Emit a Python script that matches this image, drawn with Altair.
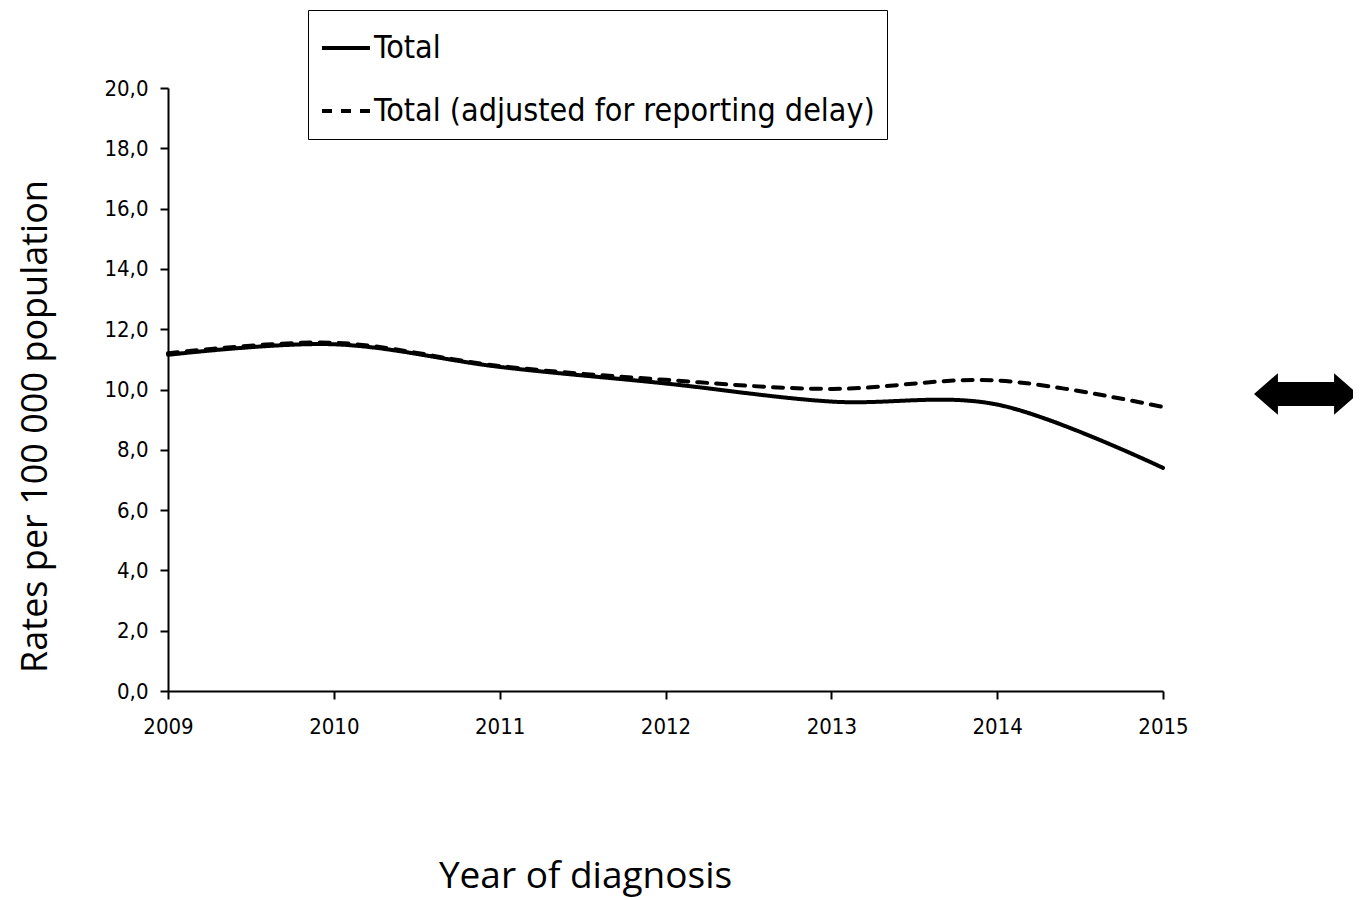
import altair as alt
import pandas as pd

years = [2009, 2010, 2011, 2012, 2013, 2014, 2015]
total = [11.15, 11.5, 10.75, 10.2, 9.6, 9.5, 7.4]
adjusted = [11.2, 11.55, 10.78, 10.32, 10.02, 10.3, 9.42]
series_names = ["Total", "Total (adjusted for reporting delay)"]
y_ticks = [0, 2, 4, 6, 8, 10, 12, 14, 16, 18, 20]

rows = []
for y, t, a in zip(years, total, adjusted):
    rows.append({"year": y, "rate": t, "series": series_names[0]})
    rows.append({"year": y, "rate": a, "series": series_names[1]})
df = pd.DataFrame(rows)

narrow = "Liberation Sans Narrow, Arial Narrow, DejaVu Sans Condensed, sans-serif"
title_font = "Open Sans"

lines = alt.Chart(df).mark_line(
    interpolate="cardinal", strokeWidth=4, color="black", strokeCap="round"
).encode(
    x=alt.X(
        "year:Q",
        scale=alt.Scale(domain=[2009, 2015], nice=False, zero=False),
        axis=alt.Axis(
            values=years, format="d", grid=False, domainColor="black", domainWidth=2,
            tickColor="black", tickWidth=2, tickSize=8, labelFont=narrow, labelFontSize=22,
            labelColor="black", labelPadding=17, labelFlush=False, title="Year of diagnosis",
            titleFont=title_font, titleFontSize=37, titleFontWeight="normal", titleColor="black",
            titleX=417, titleY=185, titleAnchor="middle", titleAlign="center", titleBaseline="middle",
        ),
    ),
    y=alt.Y(
        "rate:Q",
        scale=alt.Scale(domain=[0, 20], nice=False),
        axis=alt.Axis(
            values=y_ticks, grid=False, domainColor="black", domainWidth=2,
            tickColor="black", tickWidth=2, tickSize=8, labelFont=narrow, labelFontSize=22,
            labelColor="black", labelPadding=12,
            labelExpr="replace(format(datum.value, '.1f'), '.', ',')",
            title="Rates per 100 000 population", titleFont=title_font, titleFontSize=36,
            titleFontWeight="normal", titleColor="black", titleAngle=-90,
            titleX=-133, titleY=338, titleAlign="center", titleBaseline="middle",
        ),
    ),
    strokeDash=alt.StrokeDash(
        "series:N",
        scale=alt.Scale(domain=series_names, range=[[1, 0], [10, 9]]),
        legend=alt.Legend(
            title=None, orient="none", legendX=140, legendY=-78, strokeColor="black",
            padding=12, symbolType="stroke", symbolSize=2304, symbolStrokeWidth=4,
            symbolStrokeColor="black", labelFont=narrow, labelFontSize=32, labelColor="black",
            labelOffset=2, rowPadding=21, labelLimit=1000,
        ),
    ),
    detail="series:N",
)

arrow_path = ("M -1 0 L -0.54 -0.4 L -0.54 -0.23 L 0.54 -0.23 L 0.54 -0.4 L 1 0 "
              "L 0.54 0.4 L 0.54 0.23 L -0.54 0.23 L -0.54 0.4 Z")
arrow = alt.Chart(pd.DataFrame({"a": [1]})).mark_point(
    shape=arrow_path, filled=True, color="black", opacity=1, size=10816, clip=False
).encode(x=alt.value(1138), y=alt.value(306))

chart = alt.layer(lines, arrow).properties(
    width=995, height=603,
    autosize=alt.AutoSizeParams(type="none"),
    padding={"left": 160, "top": 80, "right": 190, "bottom": 208},
).configure(background="white").configure_view(stroke=None, strokeWidth=0)

chart.save("out.html", embed_options={"renderer": "svg", "actions": False})
